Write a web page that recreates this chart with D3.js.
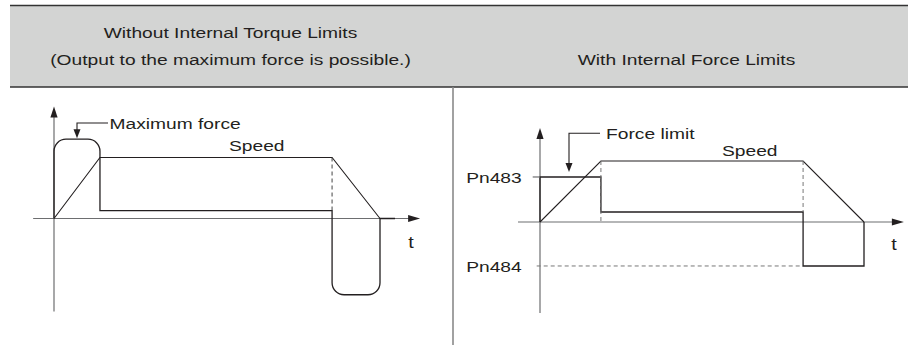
<!DOCTYPE html>
<html><head><meta charset="utf-8">
<script src="https://cdn.jsdelivr.net/npm/d3@7"></script>
<style>
html,body{margin:0;padding:0;background:#fff;}
svg{display:block;}
text{font-family:"Liberation Sans",Arial,Helvetica,sans-serif;fill:#231f20;}
</style></head><body>
<svg id="c" width="908" height="345"></svg>
<script>
// ---------------- data ----------------
const headerLeft = ["Without Internal Torque Limits", "(Output to the maximum force is possible.)"];
const headerRight = ["With Internal Force Limits"];
const axisLabel = "t";
const speedLabel = "Speed";

// left panel (time as % of stop time, values in % of rated speed)
const leftSpeedT = [0, 14.1, 85.3, 100];
const leftSpeedV = [0, 100, 100, 0];
const leftForceT = [0, 0, 14.1, 14.1, 85.3, 85.3, 100, 100, 104.6];
const leftForceV = [0, 130, 130, 13, 13, -125, -125, 0, 0];
const leftRounded = [1, 2, 5, 6];
const leftNote = "Maximum force";

// right panel
const rightSpeedT = [0, 18.8, 81.2, 100];
const rightSpeedV = [0, 100, 100, 0];
const rightForceT = [0, 0, 18.8, 18.8, 81.2, 81.2, 100, 100];
const rightForceV = [0, 73.8, 73.8, 16.4, 16.4, -72.1, -72.1, 0];
const limitLabels = ["Pn483", "Pn484"];
const limitValues = [73.8, -72.1];
const rightNote = "Force limit";

// ---------------- drawing ----------------
const svg = d3.select("#c");
const SX = 1.24;           // horizontal text stretch of the reference typeface
const INK = "#231f20", AXIS = "#6d6e70";

function txt(x, y, s, size, anchor) {
  return svg.append("text")
    .attr("transform", `translate(${x},${y}) scale(${SX},1)`)
    .attr("text-anchor", anchor || "start")
    .style("font-size", size + "px")
    .text(s);
}
function tri(pts) {
  svg.append("path").attr("d", "M" + pts.map(p => p.join(",")).join("L") + "Z")
    .attr("fill", INK).attr("stroke", "none");
}
function line(x1, y1, x2, y2, color, w, dash) {
  const l = svg.append("line").attr("x1", x1).attr("y1", y1).attr("x2", x2).attr("y2", y2)
    .attr("stroke", color).attr("stroke-width", w);
  if (dash) l.attr("stroke-dasharray", dash);
  return l;
}
function roundedPath(pts, roundIdx, r) {
  const p = d3.path();
  pts.forEach((pt, i) => {
    if (i === 0) p.moveTo(pt[0], pt[1]);
    else if (roundIdx.includes(i)) { const n = pts[i + 1]; p.arcTo(pt[0], pt[1], n[0], n[1], r); }
    else p.lineTo(pt[0], pt[1]);
  });
  return p.toString();
}

// header band
svg.append("rect").attr("x", 10).attr("y", 5).attr("width", 898).attr("height", 82).attr("fill", "#d3d4d3");
line(10, 5.5, 908, 5.5, "#333", 1.3);
line(10, 87, 908, 87, "#333", 1.3);
txt(230.5, 37.7, headerLeft[0], 15.5, "middle");
txt(230.5, 64.5, headerLeft[1], 15.5, "middle");
txt(686.5, 64.5, headerRight[0], 15.5, "middle");

// divider
line(453, 87, 453, 345, "#8a8a8a", 1.6);

function panel(cfg) {
  const x = d3.scaleLinear().domain([0, 100]).range([cfg.x0, cfg.x1]);
  const y = d3.scaleLinear().domain([0, 100]).range([cfg.y0, cfg.y1]);
  // axes
  line(x(cfg.xDom[0]), y(0), x(cfg.xDom[1]) - 6, y(0), AXIS, 1.2);
  line(x(0), y(cfg.yDom[0]), x(0), y(cfg.yDom[1]) + 6, AXIS, 1.2);
  const xt = x(cfg.xDom[1]), yt = y(cfg.yDom[1]);
  tri([[xt, y(0)], [xt - 12, y(0) - 3.6], [xt - 12, y(0) + 3.6]]);
  tri([[x(0), yt], [x(0) - 3.6, yt + 11], [x(0) + 3.6, yt + 11]]);
  // speed
  const sp = d3.line().x(d => x(d[0])).y(d => y(d[1]));
  svg.append("path").attr("d", sp(cfg.speedT.map((t, i) => [t, cfg.speedV[i]])))
    .attr("fill", "none").attr("stroke", INK).attr("stroke-width", 1.1);
  // force
  const fp = cfg.forceT.map((t, i) => [x(t), y(cfg.forceV[i])]);
  svg.append("path").attr("d", roundedPath(fp, cfg.rounded || [], 12))
    .attr("fill", "none").attr("stroke", INK).attr("stroke-width", 1.3);
  return { x, y };
}

// left
const L = panel({
  x0: 54, x1: 380, y0: 218.5, y1: 157.5, xDom: [-6.4, 112.3], yDom: [-152.5, 183.6],
  speedT: leftSpeedT, speedV: leftSpeedV, forceT: leftForceT, forceV: leftForceV, rounded: leftRounded
});
line(L.x(leftSpeedT[2]), L.y(leftSpeedV[2]), L.x(leftSpeedT[2]), L.y(leftForceV[3]), "#444", 1, "4,3");
txt(411, 248, axisLabel, 16, "middle");
txt(229, 151, speedLabel, 15.5, "start");
// max-force leader
const lt = L.y(leftForceV[1]) - 1;
svg.append("path").attr("d", `M108,123H77V${lt - 8}`).attr("fill", "none").attr("stroke", INK).attr("stroke-width", 1.1);
tri([[77, lt], [73.5, lt - 9], [80.5, lt - 9]]);
txt(109.5, 129.3, leftNote, 15.5, "start");

// right
const R = panel({
  x0: 540, x1: 864, y0: 222, y1: 161, xDom: [-6.8, 112.3], yDom: [-149.2, 154.1],
  speedT: rightSpeedT, speedV: rightSpeedV, forceT: rightForceT, forceV: rightForceV
});
line(R.x(rightSpeedT[1]), R.y(rightSpeedV[1]), R.x(rightSpeedT[1]), R.y(0), "#777", 1, "4,3");
line(R.x(rightSpeedT[2]), R.y(rightSpeedV[2]), R.x(rightSpeedT[2]), R.y(rightForceV[4]), "#777", 1, "4,3");
// limit levels
line(532.7, R.y(limitValues[0]), R.x(0), R.y(limitValues[0]), AXIS, 1.2);
line(536.7, R.y(limitValues[1]), R.x(rightForceT[5]), R.y(limitValues[1]), "#777", 1, "4,3");
limitLabels.forEach((s, i) => txt(521.7, R.y(limitValues[i]) + 6, s, 15.5, "end"));
txt(894, 250, axisLabel, 16, "middle");
txt(722, 155.5, speedLabel, 15.5, "start");
// force-limit leader
const rt = R.y(limitValues[0]) - 5;
svg.append("path").attr("d", `M600,133.3H569V${rt - 8}`).attr("fill", "none").attr("stroke", INK).attr("stroke-width", 1.1);
tri([[569, rt], [565.5, rt - 9], [572.5, rt - 9]]);
txt(606, 138.5, rightNote, 15.5, "start");
</script>
</body></html>
